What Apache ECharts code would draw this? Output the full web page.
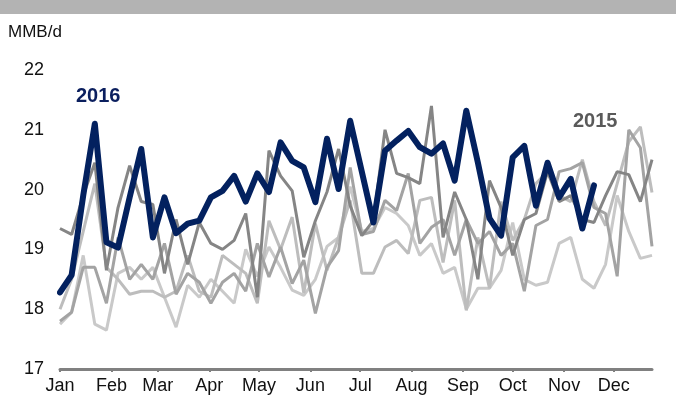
<!DOCTYPE html>
<html><head><meta charset="utf-8">
<script src="https://cdn.jsdelivr.net/npm/echarts@6/dist/echarts.min.js"></script>
<style>html,body{margin:0;padding:0;background:#fff}#c{width:676px;height:403px}</style>
</head><body><div id="c"></div>
<script>
const months = ['Jan','Feb','Mar','Apr','May','Jun','Jul','Aug','Sep','Oct','Nov','Dec'];
const monthStartWeek = [0, 4.43, 8.43, 12.86, 17.14, 21.57, 25.86, 30.29, 34.71, 39, 43.43, 47.71];
const yTicks = [17, 18, 19, 20, 21, 22];

const y2016 = [18.28,18.57,19.9,21.1,19.12,19.03,19.87,20.68,19.2,19.87,19.27,19.43,19.48,19.87,19.98,20.23,19.8,20.27,19.96,20.79,20.48,20.37,19.79,20.85,20.01,21.15,20.3,19.45,20.65,20.82,20.98,20.71,20.6,20.77,20.15,21.32,20.45,19.52,19.23,20.54,20.73,19.73,20.45,19.87,20.18,19.35,20.07];
const y2015 = [19.35,19.25,19.9,20.45,18.65,19.7,20.4,19.8,19.75,18.6,19.5,18.75,19.45,19.1,19.0,19.15,19.6,18.2,20.65,20.23,19.98,18.87,19.48,19.96,20.68,19.73,19.23,19.48,21.0,20.27,20.2,20.1,21.4,19.2,19.96,19.5,18.5,20.15,19.7,18.9,19.5,19.6,20.3,19.8,19.9,19.5,19.45,19.9,20.3,20.25,19.8,20.5];
const y2014 = [17.8,17.95,18.7,18.7,18.1,19.2,18.5,18.75,18.5,19.1,18.25,18.6,18.45,18.1,18.45,18.6,18.3,19.1,18.54,19.04,18.43,18.82,17.93,18.7,18.98,20.37,19.25,19.3,19.82,19.65,20.27,19.1,19.37,19.5,18.9,19.5,19.1,19.3,18.9,19.1,18.3,19.4,19.5,20.3,20.35,20.45,19.7,19.6,18.55,21.0,20.7,19.05];
const y2013 = [18.0,18.5,19.3,20.1,18.7,18.5,18.25,18.3,18.3,18.2,18.3,18.9,18.3,18.2,18.9,18.75,18.6,18.1,19.48,19.0,19.54,18.27,19.43,18.65,19.2,19.82,18.6,18.6,19.04,19.15,18.93,19.82,19.87,18.78,19.82,17.98,19.2,18.35,19.8,19.15,19.5,20.1,20.3,19.9,19.8,20.5,19.8,19.4,20.1,20.8,21.05,19.95];
const y2012 = [17.75,17.95,18.9,17.75,17.65,18.6,18.7,18.5,18.7,18.2,17.7,18.4,18.2,18.5,18.3,18.1,19.0,18.55,19.04,18.7,18.32,18.23,18.5,19.05,19.2,20.05,19.3,19.35,19.7,19.6,19.4,18.9,19.1,18.6,18.7,18.0,18.35,18.35,18.65,19.45,18.5,18.4,18.45,19.1,19.2,18.5,18.35,18.75,19.9,19.3,18.85,18.9];

const weekIndex = arr => arr.map((_, i) => i);
const pairs = arr => { const w = weekIndex(arr); return arr.map((v, i) => [w[i], v]); };

const chart = echarts.init(document.getElementById('c'), null, {renderer:'canvas'});
const grayLine = (name, data, color, z) => ({
  name, type:'line', data: pairs(data), showSymbol:false, symbol:'none', z,
  lineStyle:{color, width:3}, animation:false
});
const FONT = '"Liberation Sans", Arial, sans-serif';
chart.setOption({
  animation:false,
  backgroundColor:'#fff',
  graphic:[
    {type:'rect', left:0, top:0, shape:{width:676, height:14}, style:{fill:'#b3b3b3'}, silent:true},
    {type:'text', left:8, top:24, style:{text:'MMB/d', font:'17px ' + FONT, fill:'#111'}},
    {type:'text', left:76, top:86, style:{text:'2016', font:'bold 20px ' + FONT, fill:'#0b1f5e'}},
    {type:'text', left:573, top:111, style:{text:'2015', font:'bold 20px ' + FONT, fill:'#5a5a5a'}}
  ],
  grid:{left:60, right:24, top:70, bottom:34, containLabel:false},
  xAxis:{
    type:'value', min:0, max:51,
    axisLine:{show:true, lineStyle:{color:'#808080', width:3}},
    axisTick:{show:true, customValues: monthStartWeek, length:3, lineStyle:{color:'#808080', width:2}},
    axisLabel:{show:true, customValues: monthStartWeek, color:'#111', fontSize:18, fontFamily:FONT, margin:8,
      formatter: v => { const k = monthStartWeek.findIndex(m => Math.abs(m - v) < 0.01); return k >= 0 ? months[k] : ''; }},
    splitLine:{show:false}
  },
  yAxis:{
    type:'value', min:yTicks[0], max:yTicks[yTicks.length-1], interval:1,
    axisLine:{show:false}, axisTick:{show:false}, splitLine:{show:false},
    axisLabel:{color:'#111', fontSize:18, fontFamily:FONT, margin:16}
  },
  series:[
    grayLine('2012', y2012, '#c9c9c9', 1),
    grayLine('2013', y2013, '#bdbdbd', 2),
    grayLine('2014', y2014, '#a3a3a3', 3),
    grayLine('2015', y2015, '#858585', 4),
    {name:'2016', type:'line', data: pairs(y2016), showSymbol:false, symbol:'none', z:10,
     lineStyle:{color:'#03215f', width:6, join:'round', cap:'round'}}
  ]
});
</script></body></html>
